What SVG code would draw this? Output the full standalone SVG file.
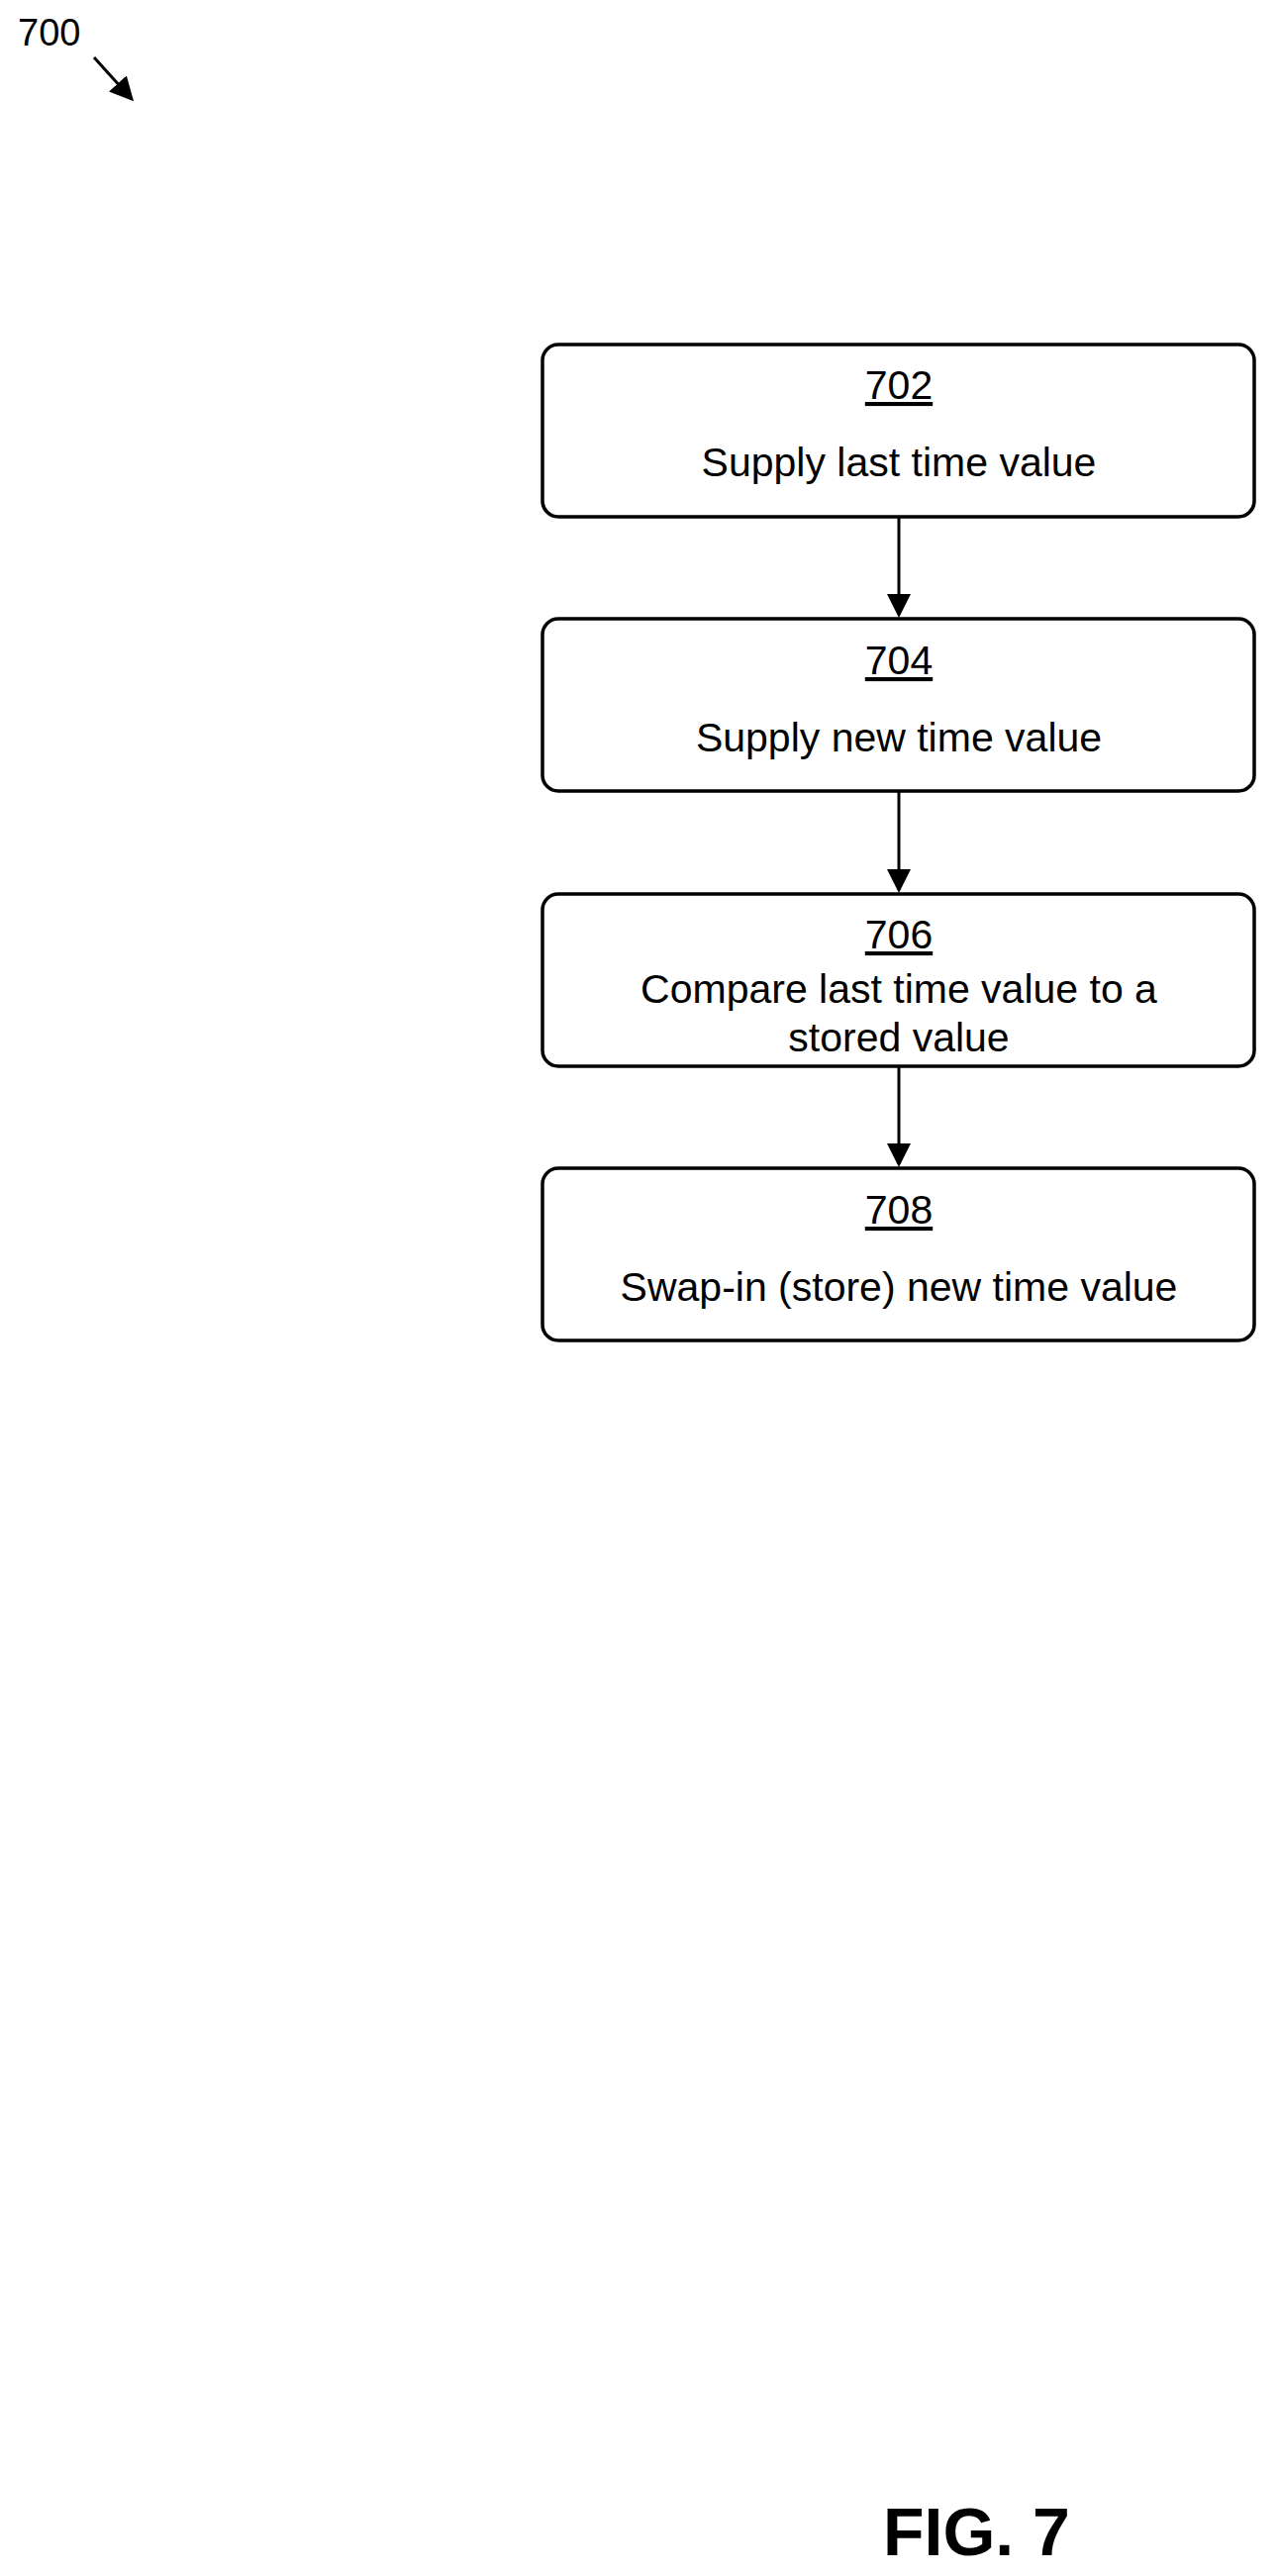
<svg xmlns="http://www.w3.org/2000/svg" width="1293" height="2602" viewBox="0 0 1293 2602">
<style>
text{font-family:"Liberation Sans",Arial,sans-serif;fill:#000}
.box{fill:#fff;stroke:#000;stroke-width:3.5}
.t{font-size:41px;text-anchor:middle}
.n{font-size:41px;text-anchor:middle;text-decoration:underline}
.c{stroke:#000;stroke-width:3;fill:none;marker-end:url(#ah)}
</style>
<defs><marker id="ah" markerWidth="8" markerHeight="8" refX="7" refY="4" orient="auto" markerUnits="strokeWidth"><path d="M0,0 L8,4 L0,8 Z" fill="#000"/></marker></defs>
<rect width="1293" height="2602" fill="#fff"/>
<g id="label700"><text x="18" y="46" style="font-size:38px">700</text>
<line x1="95" y1="58" x2="133" y2="100" class="c"/></g>
<g id="n702"><rect class="box" x="548" y="348" width="719" height="174" rx="16"/><text class="n" x="908" y="403">702</text><text class="t" x="908" y="481">Supply last time value</text></g>
<g id="n704"><rect class="box" x="548" y="625" width="719" height="174" rx="16"/><text class="n" x="908" y="681">704</text><text class="t" x="908" y="759">Supply new time value</text></g>
<g id="n706"><rect class="box" x="548" y="903" width="719" height="174" rx="16"/><text class="n" x="908" y="958">706</text><text class="t" x="908" y="1013">Compare last time value to a</text><text class="t" x="908" y="1062">stored value</text></g>
<g id="n708"><rect class="box" x="548" y="1180" width="719" height="174" rx="16"/><text class="n" x="908" y="1236">708</text><text class="t" x="908" y="1314">Swap-in (store) new time value</text></g>
<g id="connectors">
<line class="c" x1="908" y1="522" x2="908" y2="621"/>
<line class="c" x1="908" y1="799" x2="908" y2="899"/>
<line class="c" x1="908" y1="1077" x2="908" y2="1176"/>
</g>
<text x="892" y="2581" style="font-size:68px;font-weight:bold">FIG. 7</text>
</svg>
